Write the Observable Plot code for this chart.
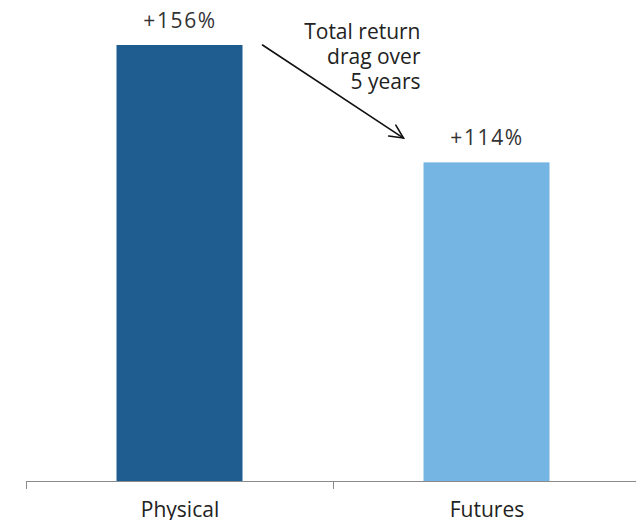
<!DOCTYPE html>
<html><head><meta charset="utf-8">
<script src="https://cdn.jsdelivr.net/npm/d3@7"></script>
<script src="https://cdn.jsdelivr.net/npm/@observablehq/plot@0.6"></script>
<style>body{margin:0;background:#fff;} #chart svg{display:block;}</style>
</head><body><div id="chart"></div>
<script>
const categories = ["Physical", "Futures"];
const returns = [156, 114];
const valueLabels = ["+156%", "+114%"];
const colors = ["#1f5d91", "#75b5e4"];
const annotationText = ["Total return\ndrag over\n5 years"];
const annotationAnchor = [{category: "Futures", value: 152.4}];
const arrowFrom = {category: "Physical", value: 156};
const arrowTo = {category: "Futures", value: 122.7};

const data = categories.map((c, i) => ({category: c, value: returns[i], label: valueLabels[i]}));
const bandStep = (640 - 26) / 2;
const barWidth = 126;
const inset = (bandStep - barWidth) / 2;
const font = "'Open Sans', sans-serif";

const plot = Plot.plot({
  width: 636, height: 520,
  marginLeft: 26, marginRight: 0, marginTop: 45, marginBottom: 39,
  style: {fontFamily: font, background: "#fff"},
  x: {domain: categories, range: [26, 640], padding: 0},
  y: {domain: [0, 156], axis: null},
  color: {domain: categories, range: colors},
  marks: [
    Plot.barY(data, {x: "category", y: "value", fill: "category", insetLeft: inset, insetRight: inset}),
    Plot.ruleY([0], {stroke: "#8a8a8a", strokeWidth: 1.2}),
    Plot.axisX({tickSize: 8, tickFormat: () => "", dx: -bandStep / 2, stroke: "#8a8a8a", label: null}),
    Plot.axisX({tickSize: 0, tickPadding: 21, fontSize: 21, fill: "#222", label: null}),
    Plot.text(data, {x: "category", y: "value", text: "label", dy: -18, lineAnchor: "bottom", fontSize: 21, fill: "#333"}),
    Plot.text(annotationAnchor, {x: "category", y: "value", text: () => annotationText[0], dx: -66.5, textAnchor: "end", lineAnchor: "middle", lineHeight: 1.19, fontSize: 21, fill: "#222"})
  ]
});

// wider digit spacing in the value labels
const textGroups = d3.select(plot).selectAll('g[aria-label="text"]').nodes();
if (textGroups[0]) d3.select(textGroups[0]).attr("letter-spacing", "1.6px");

// arrow drawn with the plot's own scales
const xs = plot.scale("x"), ys = plot.scale("y");
const bw = xs.bandwidth;
const x1 = xs.apply(arrowFrom.category) + bw / 2 + barWidth / 2 + 20;
const y1 = ys.apply(arrowFrom.value);
const x2 = xs.apply(arrowTo.category) + bw / 2 - barWidth / 2 - 20;
const y2 = ys.apply(arrowTo.value);
const ang = Math.atan2(y2 - y1, x2 - x1);
const head = 15, spread = Math.PI / 7;
const svg = d3.select(plot);
const g = svg.append("g").attr("stroke", "#111").attr("fill", "none").attr("stroke-width", 1.6).attr("stroke-linecap", "round");
g.append("line").attr("x1", x1).attr("y1", y1).attr("x2", x2).attr("y2", y2);
g.append("path").attr("d",
  `M${x2 - head * Math.cos(ang - spread)},${y2 - head * Math.sin(ang - spread)}L${x2},${y2}L${x2 - head * Math.cos(ang + spread)},${y2 - head * Math.sin(ang + spread)}`);

document.getElementById("chart").append(plot);
</script>
</body></html>
